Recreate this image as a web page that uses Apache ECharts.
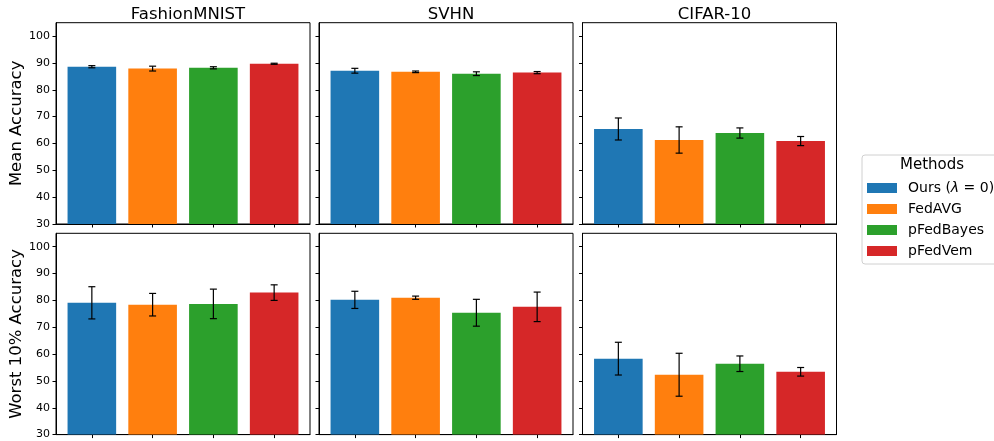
<!DOCTYPE html>
<html>
<head>
<meta charset="utf-8">
<script src="https://cdn.jsdelivr.net/npm/echarts@6/dist/echarts.min.js"></script>
<style>
  html, body { margin: 0; padding: 0; background: #fff; }
  #main { width: 994px; height: 441px; }
</style>
</head>
<body>
<div id="main"></div>
<script type="text/javascript">
// data
var datasets = ['FashionMNIST', 'SVHN', 'CIFAR-10'];
var methods = ['Ours (λ = 0)', 'FedAVG', 'pFedBayes', 'pFedVem'];
var rowNames = ['Mean Accuracy', 'Worst 10% Accuracy'];
var yTicks = [30, 40, 50, 60, 70, 80, 90, 100];

var meanAcc = [[88.6, 87.9, 88.2, 89.7], [87.1, 86.7, 86.0, 86.4], [65.4, 61.3, 63.9, 60.9]];
var meanErr = [[0.4, 0.9, 0.4, 0.2], [0.9, 0.3, 0.7, 0.4], [4.1, 4.9, 1.9, 1.7]];
var worstAcc = [[79.1, 78.4, 78.7, 82.9], [80.2, 81.0, 75.4, 77.6], [58.3, 52.3, 56.4, 53.4]];
var worstErr = [[6.0, 4.2, 5.5, 2.9], [3.2, 0.6, 5.0, 5.5], [6.1, 8.0, 2.9, 1.6]];

var colors = ['#1f77b4', '#ff7f0e', '#2ca02c', '#d62728'];
var FONT = 'DejaVu Sans';

var lefts = [56, 319, 582.5];
var tops = [22.7, 233.3];
var gw = 254, gh = 201.3;

var myChart = echarts.init(document.getElementById('main'));

var grids = [], xAxes = [], yAxes = [], series = [], titles = [];
var rows = [[meanAcc, meanErr], [worstAcc, worstErr]];

for (var r = 0; r < 2; r++) {
    for (var c = 0; c < 3; c++) {
        var p = r * 3 + c;
        grids.push({
            left: lefts[c], top: tops[r], width: gw, height: gh,
            show: true, borderColor: '#000', borderWidth: 1, backgroundColor: '#fff'
        });
        xAxes.push({
            type: 'value', gridIndex: p, min: -0.59, max: 3.59,
            axisLine: { show: true, onZero: false, lineStyle: { color: '#000', width: 1 } },
            axisTick: { show: true, customValues: [0, 1, 2, 3], length: 3.5, lineStyle: { color: '#000' } },
            axisLabel: { show: false },
            splitLine: { show: false }
        });
        yAxes.push({
            type: 'value', gridIndex: p, min: 30, max: 105,
            name: c === 0 ? rowNames[r] : '',
            nameLocation: 'middle', nameGap: 31, nameRotate: 90,
            nameTextStyle: { fontFamily: FONT, fontSize: 16.5, color: '#000' },
            axisLine: { show: true, onZero: false, lineStyle: { color: '#000', width: 1 } },
            axisTick: { show: true, customValues: yTicks, length: 3.5, lineStyle: { color: '#000' } },
            axisLabel: { show: c === 0, customValues: yTicks, margin: 6, fontFamily: FONT, fontSize: 11, color: '#000' },
            splitLine: { show: false }
        });
        var vals = rows[r][0][c], errs = rows[r][1][c];
        for (var m = 0; m < 4; m++) {
            series.push({
                type: 'bar', name: methods[m], xAxisIndex: p, yAxisIndex: p,
                barWidth: 48.6, barGap: '-100%',
                itemStyle: { color: colors[m] },
                data: [[m, vals[m]]],
                z: 2
            });
        }
        var errData = [];
        for (var m = 0; m < 4; m++) {
            errData.push([m, vals[m] - errs[m], vals[m] + errs[m]]);
        }
        series.push({
            type: 'custom', name: 'err', xAxisIndex: p, yAxisIndex: p, z: 5,
            encode: { x: 0, y: [1, 2] },
            data: errData,
            renderItem: function (params, api) {
                var x = api.value(0);
                var lo = api.coord([x, api.value(1)]);
                var hi = api.coord([x, api.value(2)]);
                var st = { stroke: '#000', lineWidth: 1.2 };
                return {
                    type: 'group',
                    children: [
                        { type: 'line', shape: { x1: lo[0], y1: lo[1], x2: hi[0], y2: hi[1] }, style: st },
                        { type: 'line', shape: { x1: lo[0] - 3.5, y1: lo[1], x2: lo[0] + 3.5, y2: lo[1] }, style: st },
                        { type: 'line', shape: { x1: hi[0] - 3.5, y1: hi[1], x2: hi[0] + 3.5, y2: hi[1] }, style: st }
                    ]
                };
            }
        });
        if (r === 0) {
            titles.push({
                text: datasets[c], left: lefts[c] + gw / 2, top: 1, textAlign: 'center',
                textStyle: { fontFamily: FONT, fontSize: 16.5, fontWeight: 'normal', color: '#000' }
            });
        }
    }
}

option = {
    animation: false,
    title: titles,
    grid: grids,
    xAxis: xAxes,
    yAxis: yAxes,
    legend: {
        data: methods,
        orient: 'vertical',
        left: 862, top: 155,
        padding: [25, 4, 5, 5],
        itemWidth: 30, itemHeight: 10, itemGap: 5,
        icon: 'rect',
        borderColor: '#d0d0d0', borderWidth: 1, borderRadius: 3,
        selectedMode: false,
        formatter: function (name) {
            return name === methods[0] ? 'Ours ({i|λ} = 0)' : name;
        },
        textStyle: {
            fontFamily: FONT, fontSize: 14, color: '#000', lineHeight: 16, padding: [0, 0, 0, 6],
            rich: { i: { fontFamily: FONT, fontSize: 14, fontStyle: 'italic', color: '#000' } }
        }
    },
    graphic: [{
        type: 'text', left: 900, top: 158,
        style: { text: 'Methods', fontFamily: FONT, fontSize: 15, fill: '#000' }
    }],
    series: series
};
myChart.setOption(option);
</script>
</body>
</html>
